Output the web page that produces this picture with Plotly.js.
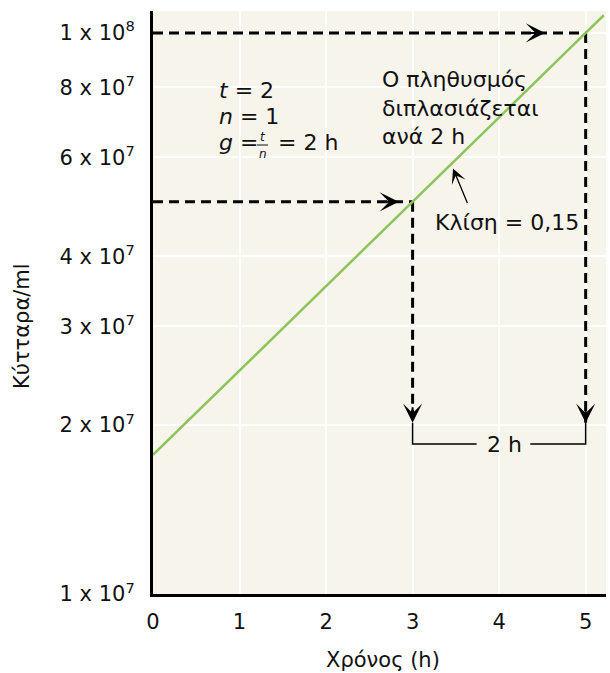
<!DOCTYPE html>
<html>
<head>
<meta charset="utf-8">
<script src="https://cdn.plot.ly/plotly-3.0.1.min.js"></script>
<style>html,body{margin:0;padding:0;background:#fff;}</style>
</head>
<body>
<div id="chart" style="width:610px;height:673px;"></div>
<script>
// ---- data ----
const timeH = [0, 1, 2, 3, 4, 5, 5.21];
const cellsPerMl = [1.77e7, 2.5e7, 3.54e7, 5e7, 7.07e7, 1e8, 1.075e8];

const xTickVals = [0, 1, 2, 3, 4, 5];
const yTickVals = [1e7, 2e7, 3e7, 4e7, 6e7, 8e7, 1e8];
const yTickText = ['1 x 10<sup>7</sup>', '2 x 10<sup>7</sup>', '3 x 10<sup>7</sup>', '4 x 10<sup>7</sup>',
                   '6 x 10<sup>7</sup>', '8 x 10<sup>7</sup>', '1 x 10<sup>8</sup>'];

// doubling read-off: 5e7 at t=3 h -> 1e8 at t=5 h
const dblTimes = [3, 5];
const dblCells = [5e7, 1e8];
const bracketLow = 1.85e7;   // level of the "2 h" bracket
const arrowTipCells = 2.02e7; // where the vertical dashed arrows end
const slopePoint = [3.467, 5.73e7];
const slopeLabel = 'Κλίση = 0,15';
const doublingLabel = 'Ο πληθυσμός<br>διπλασιάζεται<br>ανά 2 h';

const FONT = 'DejaVu Sans, Arial, sans-serif';
const L = 153, R = 606, T = 11, B = 594;
const P = (px, py) => ({x: (px - L) / (R - L), y: (B - py) / (B - T)});

function txt(text, px, py, extra) {
  const p = P(px, py);
  return Object.assign({xref: 'paper', yref: 'paper', x: p.x, y: p.y, text: text, showarrow: false,
    xanchor: 'left', yanchor: 'middle', align: 'left', font: {family: FONT, size: 22, color: '#111'}}, extra || {});
}
function arrow(xv, yv, ax, ay, extra) {
  return Object.assign({xref: 'x', yref: 'y', x: xv, y: Math.log10(yv), ax: ax, ay: ay, text: '',
    showarrow: true, arrowhead: 3, arrowsize: 1.6, arrowwidth: 2, arrowcolor: '#000', standoff: 0}, extra || {});
}

const dashStyle = {color: '#000', width: 3, dash: '10px,6px'};
const traces = [
  {x: [0, dblTimes[1]], y: [dblCells[1], dblCells[1]], mode: 'lines', line: dashStyle, hoverinfo: 'skip'},
  {x: [dblTimes[1], dblTimes[1]], y: [dblCells[1], arrowTipCells], mode: 'lines', line: dashStyle, hoverinfo: 'skip'},
  {x: [0, dblTimes[0]], y: [dblCells[0], dblCells[0]], mode: 'lines', line: dashStyle, hoverinfo: 'skip'},
  {x: [dblTimes[0], dblTimes[0]], y: [dblCells[0], arrowTipCells], mode: 'lines', line: dashStyle, hoverinfo: 'skip'},
  {x: [dblTimes[0], dblTimes[0], 3.74, null, 4.36, dblTimes[1], dblTimes[1]],
   y: [arrowTipCells, bracketLow, bracketLow, null, bracketLow, bracketLow, arrowTipCells],
   mode: 'lines', line: {color: '#000', width: 1.5}, hoverinfo: 'skip', connectgaps: false},
  {x: timeH, y: cellsPerMl, mode: 'lines', line: {color: '#8cc45a', width: 2.5}, hoverinfo: 'skip'}
];

const fracBarL = P(257, 145), fracBarR = P(268, 145);

const layout = {
  width: 610, height: 673,
  margin: {l: L, r: 610 - R, t: T, b: 673 - B},
  paper_bgcolor: '#ffffff',
  plot_bgcolor: '#f7f5eb',
  showlegend: false,
  font: {family: FONT, size: 21, color: '#111'},
  xaxis: {
    range: [0, 5.235], tickvals: xTickVals, ticks: '', ticklabelstandoff: 7,
    showgrid: true, gridcolor: '#ffffff', gridwidth: 2, zeroline: false,
    showline: true, linecolor: '#000', linewidth: 3,
    tickfont: {family: FONT, size: 21, color: '#111'}
  },
  yaxis: {
    type: 'log', range: [7, 8.039], tickvals: yTickVals, ticktext: yTickText, ticks: '', ticklabelstandoff: 11,
    showgrid: true, gridcolor: '#ffffff', gridwidth: 2, zeroline: false,
    showline: true, linecolor: '#000', linewidth: 3,
    tickfont: {family: FONT, size: 21, color: '#111'}
  },
  shapes: [
    {type: 'line', xref: 'paper', yref: 'paper', x0: fracBarL.x, x1: fracBarR.x, y0: fracBarL.y, y1: fracBarR.y,
     line: {color: '#111', width: 1}}
  ],
  annotations: [
    txt('Κύτταρα/ml', 22, 326, {textangle: -90, xanchor: 'center', font: {family: FONT, size: 21, color: '#111'}}),
    txt('Χρόνος (h)', 383, 660, {xanchor: 'center', font: {family: FONT, size: 21, color: '#111'}}),
    txt('<i>t</i> = 2', 217, 90),
    txt('<i>n</i> = 1', 217, 116),
    txt('<i>g</i> =', 217, 143),
    txt('<i>t</i>', 262.5, 137, {xanchor: 'center', font: {family: FONT, size: 12, color: '#111'}}),
    txt('<i>n</i>', 262.5, 154, {xanchor: 'center', font: {family: FONT, size: 12, color: '#111'}}),
    txt('= 2 h', 276, 143),
    txt(doublingLabel, 380, 107.5),
    txt(slopeLabel, 433, 222),
    txt('2 h', 504, 444, {xanchor: 'center'}),
    arrow(4.53, dblCells[1], -17, 0),
    arrow(2.84, dblCells[0], -17, 0),
    arrow(dblTimes[0], arrowTipCells, 0, -17),
    arrow(dblTimes[1], arrowTipCells, 0, -17),
    arrow(slopePoint[0], slopePoint[1], 15, 36, {arrowwidth: 1.3, arrowsize: 1.9})
  ]
};

Plotly.newPlot('chart', traces, layout, {staticPlot: true, displayModeBar: false});
</script>
</body>
</html>
